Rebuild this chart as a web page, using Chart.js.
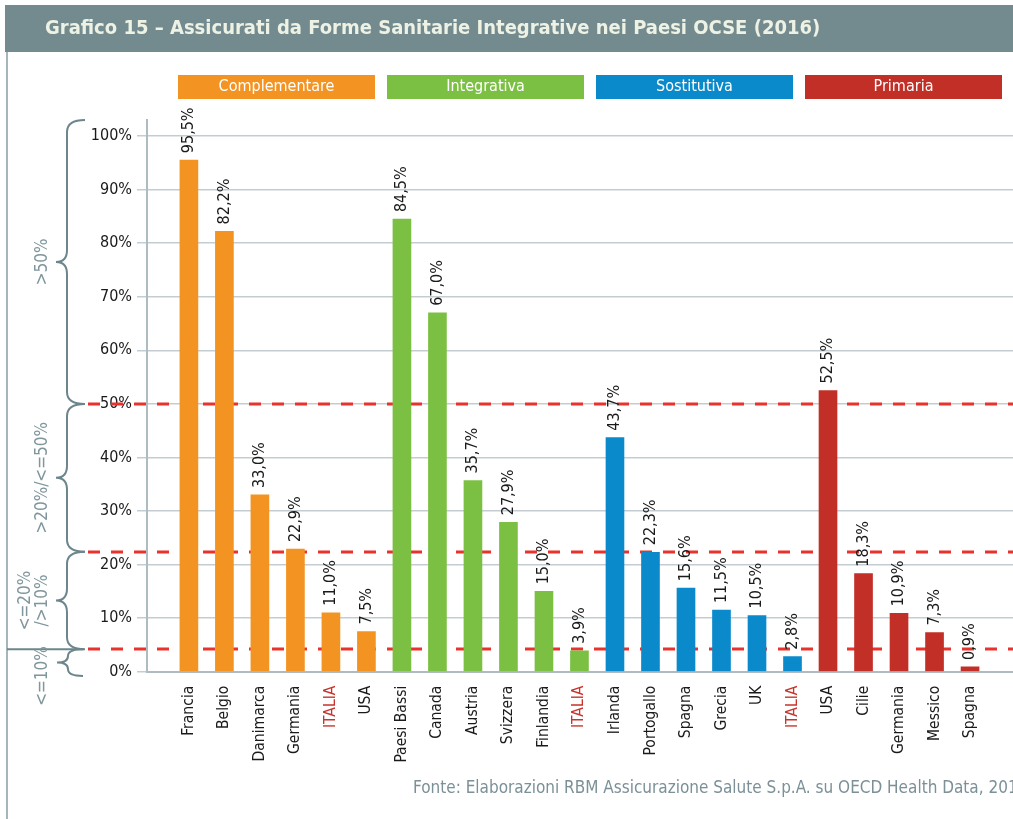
<!DOCTYPE html>
<html>
<head>
<meta charset="utf-8">
<script src="https://cdn.jsdelivr.net/npm/chart.js@4"></script>
<style>
html, body { margin: 0; padding: 0; background: #fff; }
canvas { display: block; }
</style>
</head>
<body>
<canvas id="chart" width="1013" height="819"></canvas>
<script>
var paesi = ["Francia", "Belgio", "Danimarca", "Germania", "ITALIA", "USA",
  "Paesi Bassi", "Canada", "Austria", "Svizzera", "Finlandia", "ITALIA",
  "Irlanda", "Portogallo", "Spagna", "Grecia", "UK", "ITALIA",
  "USA", "Cilie", "Germania", "Messico", "Spagna"];
var gruppi = ["Complementare", "Integrativa", "Sostitutiva", "Primaria"];
var colori = ["#f39322", "#7cc043", "#0a8acb", "#c12f26"];

var complementare = [95.5, 82.2, 33.0, 22.9, 11.0, 7.5];
var integrativa = [84.5, 67.0, 35.7, 27.9, 15.0, 3.9];
var sostitutiva = [43.7, 22.3, 15.6, 11.5, 10.5, 2.8];
var primaria = [52.5, 18.3, 10.9, 7.3, 0.9];
var serie = [complementare, integrativa, sostitutiva, primaria];

var soglie = [50, 22.4, 4.2];
var fasce = [">50%", ">20%/<=50%", ["<=20%", "/>10%"], "<=10%"];
var limitiFasce = [103, 50, 22.4, 4.2, -0.8];

var titolo = "Grafico 15 \u2013 Assicurati da Forme Sanitarie Integrative nei Paesi OCSE (2016)";
var fonte = "Fonte: Elaborazioni RBM Assicurazione Salute S.p.A. su OECD Health Data, 2015";

var FONT = "'DejaVu Sans Condensed', 'DejaVu Sans', sans-serif";
var grigio = "#6d868d";
Chart.defaults.font.family = FONT;

var inizio = 0;
var datasets = serie.map(function (valori, g) {
  var ds = {
    label: gruppi[g],
    backgroundColor: colori[g],
    barThickness: 18,
    grouped: false,
    data: valori.map(function (v, k) { return { x: inizio + k, y: v }; })
  };
  inizio += valori.length;
  return ds;
});

function graffa(ctx, xPunta, xAsta, xCusp, y1, y2) {
  var yc = (y1 + y2) / 2;
  var r = Math.min(12, (y2 - y1) / 4);
  ctx.beginPath();
  ctx.moveTo(xPunta, y1);
  ctx.quadraticCurveTo(xAsta, y1, xAsta, y1 + r);
  ctx.lineTo(xAsta, yc - r);
  ctx.quadraticCurveTo(xAsta, yc, xCusp, yc);
  ctx.quadraticCurveTo(xAsta, yc, xAsta, yc + r);
  ctx.lineTo(xAsta, y2 - r);
  ctx.quadraticCurveTo(xAsta, y2, xPunta, y2);
  ctx.stroke();
}

var decoro = {
  id: "decoro",
  beforeDraw: function (chart) {
    var ctx = chart.ctx, W = chart.width, y = chart.scales.y;
    ctx.save();
    ctx.fillStyle = "#fff";
    ctx.fillRect(0, 0, W, chart.height);
    // barra del titolo
    ctx.fillStyle = "#738b8f";
    ctx.fillRect(5, 5, W - 5, 47);
    ctx.fillStyle = "#eef2e4";
    ctx.font = "bold 20px " + FONT;
    ctx.textBaseline = "middle";
    ctx.fillText(titolo, 45, 29);
    // bordo sinistro
    ctx.strokeStyle = "#a6b5bb";
    ctx.lineWidth = 2;
    ctx.beginPath();
    ctx.moveTo(7, 52);
    ctx.lineTo(7, chart.height);
    ctx.stroke();
    // legenda
    ctx.font = "16px " + FONT;
    ctx.textAlign = "center";
    gruppi.forEach(function (g, i) {
      var x0 = 178 + i * 209;
      ctx.fillStyle = colori[i];
      ctx.fillRect(x0, 75, 197, 24);
      ctx.fillStyle = "#fff";
      ctx.fillText(g, x0 + 98.5, 87);
    });
    // graffe
    ctx.strokeStyle = grigio;
    ctx.lineWidth = 2;
    for (var i = 0; i < fasce.length; i++) {
      var y1 = y.getPixelForValue(limitiFasce[i]);
      var y2 = y.getPixelForValue(limitiFasce[i + 1]);
      var piccola = i === fasce.length - 1;
      graffa(ctx, piccola ? 83 : 85, piccola ? 68 : 67, piccola ? 57 : 56, y1, y2);
    }
    var yLinea = y.getPixelForValue(limitiFasce[3]);
    ctx.beginPath();
    ctx.moveTo(7, yLinea);
    ctx.lineTo(84, yLinea);
    ctx.stroke();
    ctx.fillStyle = "#7f969d";
    ctx.font = "17px " + FONT;
    ctx.textAlign = "center";
    ctx.textBaseline = "middle";
    fasce.forEach(function (t, i) {
      var ya = y.getPixelForValue(limitiFasce[i]);
      var yb = y.getPixelForValue(limitiFasce[i + 1]);
      var yc = i === fasce.length - 1 ? yb : (ya + yb) / 2;
      var righe = Array.isArray(t) ? t : [t];
      righe.forEach(function (r, k) {
        var xc = 43 - (righe.length - 1 - k) * 17;
        ctx.save();
        ctx.translate(xc, yc);
        ctx.rotate(-Math.PI / 2);
        ctx.fillText(r, 0, 0);
        ctx.restore();
      });
    });
    // fonte
    ctx.textAlign = "left";
    ctx.font = "17px " + FONT;
    ctx.fillStyle = "#7b9097";
    ctx.fillText(fonte, 413, 789);
    ctx.restore();
  },
  beforeDatasetsDraw: function (chart) {
    var ctx = chart.ctx, y = chart.scales.y;
    ctx.save();
    ctx.strokeStyle = "#e8322b";
    ctx.lineWidth = 3;
    ctx.setLineDash([12, 11]);
    soglie.forEach(function (s) {
      var py = Math.round(y.getPixelForValue(s));
      ctx.beginPath();
      ctx.moveTo(88, py);
      ctx.lineTo(chart.width, py);
      ctx.stroke();
    });
    ctx.restore();
  },
  afterDatasetsDraw: function (chart) {
    var ctx = chart.ctx;
    ctx.save();
    ctx.fillStyle = "#1a1a1a";
    ctx.font = "16px " + FONT;
    ctx.textAlign = "left";
    ctx.textBaseline = "middle";
    chart.data.datasets.forEach(function (ds, d) {
      chart.getDatasetMeta(d).data.forEach(function (el, k) {
        var testo = ds.data[k].y.toFixed(1).replace(".", ",") + "%";
        ctx.save();
        ctx.translate(el.x, el.y - 7);
        ctx.rotate(-Math.PI / 2);
        ctx.fillText(testo, 0, 0);
        ctx.restore();
      });
    });
    ctx.restore();
  }
};

new Chart("chart", {
  type: "bar",
  data: { datasets: datasets },
  plugins: [decoro],
  options: {
    responsive: false,
    animation: false,
    layout: { padding: { top: 120, bottom: 47.3, left: 0, right: 0 } },
    plugins: { legend: { display: false }, tooltip: { enabled: false } },
    scales: {
      x: {
        type: "linear",
        offset: false,
        min: -1.18,
        max: 23.21,
        afterBuildTicks: function (s) {
          s.ticks = paesi.map(function (p, i) { return { value: i }; });
        },
        afterFit: function (s) { s.height = 100; },
        grid: { display: false, drawTicks: false },
        border: { color: "#aebcc1", width: 2 },
        ticks: {
          autoSkip: false,
          minRotation: 90,
          maxRotation: 90,
          padding: 14,
          font: { size: 15.5 },
          color: function (c) { return paesi[c.tick.value] === "ITALIA" ? "#c9342c" : "#1a1a1a"; },
          callback: function (v) { return paesi[v]; }
        }
      },
      y: {
        min: 0,
        max: 103,
        afterFit: function (s) { s.width = 147; },
        grid: { color: "#c3cdd1", lineWidth: 1.5, tickLength: 10 },
        border: { color: "#aebcc1", width: 2 },
        ticks: {
          stepSize: 10,
          includeBounds: false,
          padding: 5,
          color: "#1a1a1a",
          font: { size: 16 },
          callback: function (v) { return v + "%"; }
        }
      }
    }
  }
});
</script>
</body>
</html>
